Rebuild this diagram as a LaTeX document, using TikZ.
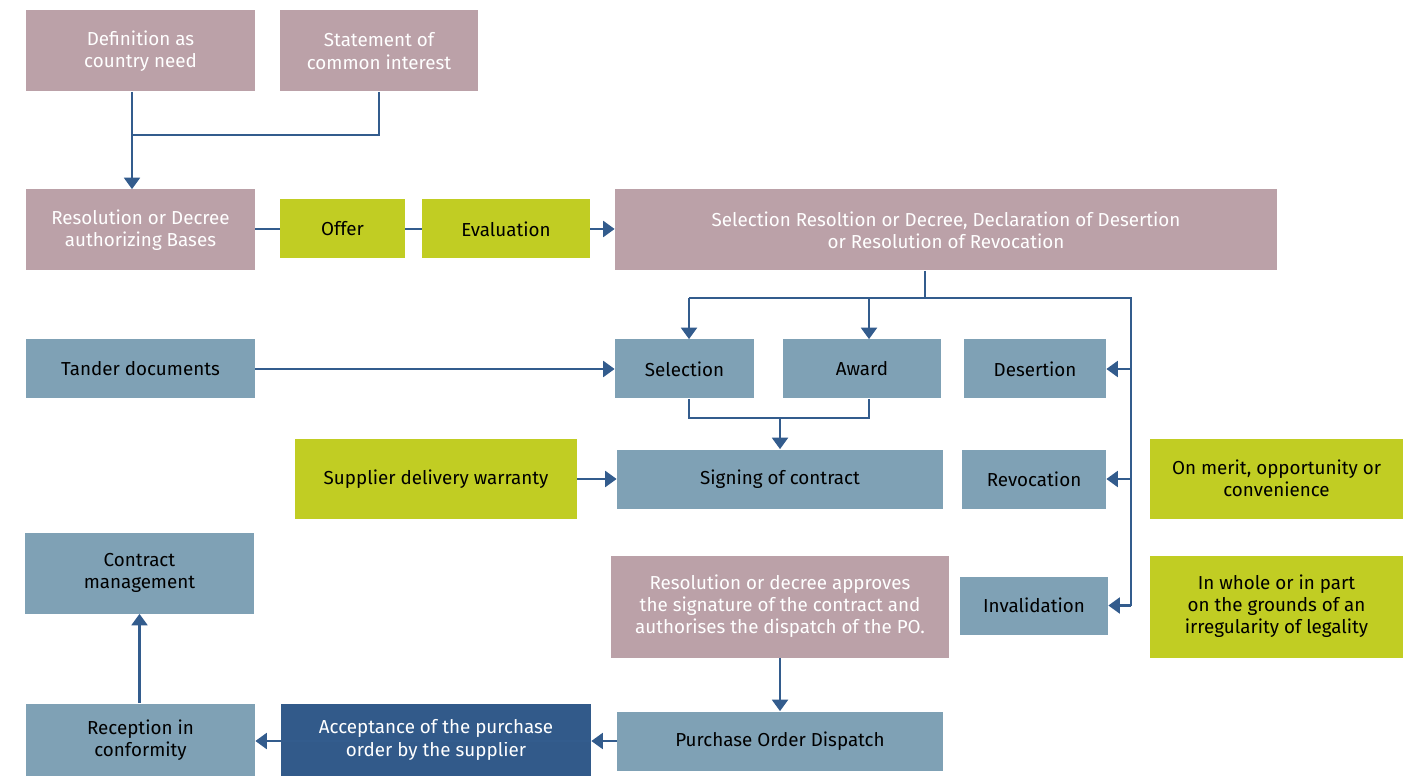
\documentclass[tikz,border=0pt]{standalone}
\usepackage{fontspec}
\setmainfont{Fira Sans}
\usetikzlibrary{arrows.meta}
\definecolor{mauve}{HTML}{BBA1A8}
\definecolor{lime}{HTML}{C1CD23}
\definecolor{steel}{HTML}{7FA1B5}
\definecolor{navy}{HTML}{325A8A}
\definecolor{linec}{HTML}{335C8D}
\begin{document}
\begin{tikzpicture}[x=0.02cm,y=-0.02cm,
  box/.style={inner sep=0pt, align=center, font=\fontsize{10.7}{12.6}\selectfont},
  sz/.style 2 args={minimum width=#1*0.02cm, minimum height=#2*0.02cm},
  mbox/.style={box, fill=mauve, text=white},
  gbox/.style={box, fill=lime, text=black},
  sbox/.style={box, fill=steel, text=black},
  nbox/.style={box, fill=navy, text=white},
  conn/.style={draw=linec, line width=1.4pt},
  arr/.style={conn, -{Triangle[length=6.5pt,width=9pt]}},
]
\useasboundingbox (0,0) rectangle (1405,776);
% nodes
\node[mbox, sz={229}{81}] (def) at (140.5,51) {Definition as\\country need};
\node[mbox, sz={198}{81}] (stmt) at (379,51) {Statement of\\common interest};
\node[mbox, sz={229}{81}] (res) at (140.5,230) {Resolution or Decree\\authorizing Bases};
\node[gbox, sz={125}{59}] (offer) at (342.5,229) {Offer};
\node[gbox, sz={168}{59}] (eval) at (506,229) {Evaluation};
\node[mbox, sz={662}{81}] (selres) at (946,230) {Selection Resoltion or Decree, Declaration of Desertion\\or Resolution of Revocation};
\node[sbox, sz={229}{59}] (tender) at (140.5,369) {Tander documents};
\node[sbox, sz={139}{59}] (selection) at (684.5,369) {Selection};
\node[sbox, sz={158}{59}] (award) at (862,369) {Award};
\node[sbox, sz={142}{59}] (desertion) at (1035,369) {Desertion};
\node[gbox, sz={282}{80}] (warranty) at (436,479) {Supplier delivery warranty};
\node[sbox, sz={326}{59}] (signing) at (780,479) {Signing of contract};
\node[sbox, sz={144}{59}] (revocation) at (1034,479) {Revocation};
\node[gbox, sz={253}{80}] (merit) at (1276.5,478.5) {On merit, opportunity or\\convenience};
\node[sbox, sz={229}{81}] (cm) at (139.5,573) {Contract\\management};
\node[mbox, sz={338}{102}] (approves) at (780,606.5) {Resolution or decree approves\\the signature of the contract and\\authorises the dispatch of the PO.};
\node[sbox, sz={148}{58}] (invalid) at (1034,605.5) {Invalidation};
\node[gbox, sz={253}{102}] (whole) at (1276.5,606.5) {In whole or in part\\on the grounds of an\\irregularity of legality};
\node[sbox, sz={229}{73}] (recep) at (140.5,740) {Reception in\\conformity};
\node[nbox, sz={310}{73}] (accept) at (436,740) {Acceptance of the purchase\\order by the supplier};
\node[sbox, sz={326}{59}] (pod) at (780,741) {Purchase Order Dispatch};
% coordinates
\coordinate (j1) at (132,135);
\coordinate (j2) at (925,298);
\coordinate (j3) at (780,418);
% connectors
\draw[arr] (def.south -| j1) -- (res.north -| j1);
\draw[conn] (stmt.south) |- (j1);
\draw[conn] (res.east |- offer) -- (offer.west);
\draw[conn] (offer.east) -- (eval.west);
\draw[arr] (eval.east) -- (selres.west |- eval);
\draw[conn] (selres.south -| j2) -- (j2);
\draw[conn] (689,298) -- (1131,298) -- (1131,606);
\draw[arr] (689,298) -- (selection.north -| 689,0);
\draw[arr] (869,298) -- (award.north -| 869,0);
\draw[arr] (1131,369) -- (desertion.east);
\draw[arr] (1131,479) -- (revocation.east);
\draw[arr] (1131,605.5) -- (invalid.east);
\draw[arr] (tender.east) -- (selection.west);
\draw[conn] (selection.south -| 689,0) |- (j3);
\draw[conn] (award.south -| 869,0) |- (j3);
\draw[arr] (j3) -- (signing.north);
\draw[arr] (warranty.east |- signing.west) -- (signing.west);
\draw[arr] (approves.south) -- (pod.north);
\draw[arr] (pod.west) -- (accept.east |- pod.west);
\draw[arr] (accept.east |- 0,741) -- (recep.east |- 0,741);
\draw[arr] (recep.north -| cm.south) -- (cm.south);
\end{tikzpicture}
\end{document}
